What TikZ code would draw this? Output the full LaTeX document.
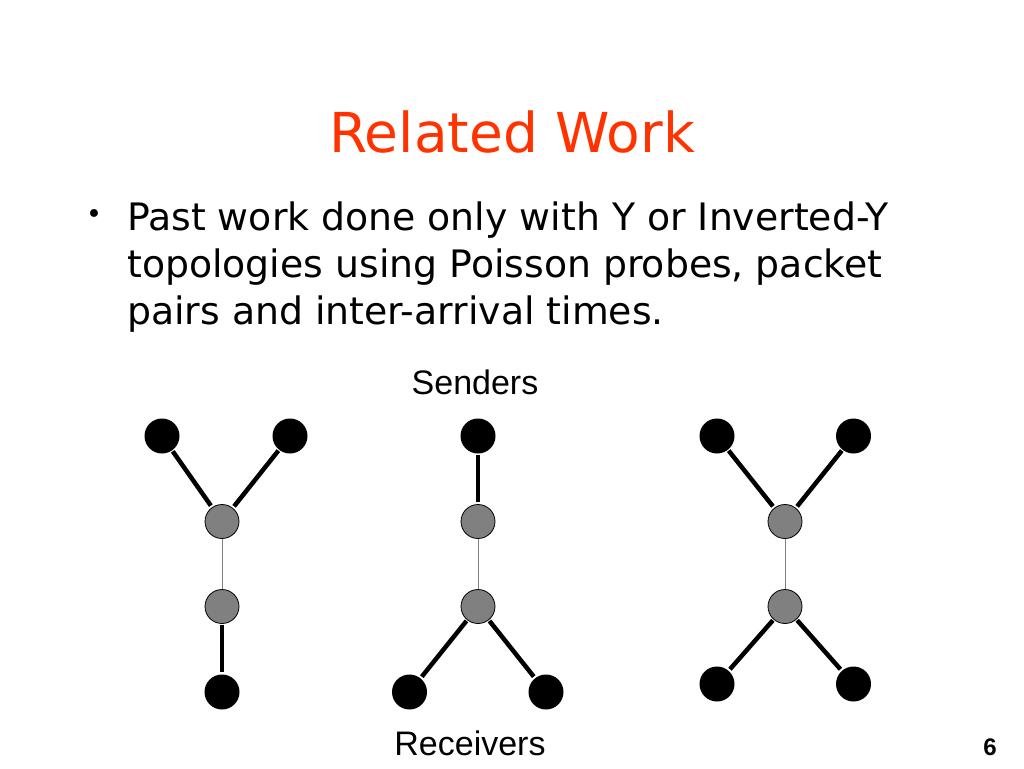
\documentclass[tikz,border=0pt]{standalone}
\usepackage{fontspec}
\setmainfont{DejaVu Sans}
\newfontfamily\arialfont{Liberation Sans}
\definecolor{titlered}{HTML}{FF3300}
\definecolor{nodegray}{HTML}{808080}
\begin{document}
\begin{tikzpicture}[x=1pt,y=-1pt,
  sendnode/.style={circle,fill=black,minimum size=35pt,inner sep=0pt},
  routenode/.style={circle,fill=nodegray,draw=black,line width=0.8pt,minimum size=34pt,inner sep=0pt},
  thickedge/.style={line width=4.5pt,black,shorten >=2pt,shorten <=1pt},
  thinedge/.style={line width=1pt,nodegray},
  bodytext/.style={anchor=base west,inner sep=0pt,font=\fontsize{37.8}{44}\selectfont},
  labeltext/.style={anchor=base,inner sep=0pt,font=\arialfont\fontsize{34}{40}\selectfont}]
\useasboundingbox[fill=white] (0,0) rectangle (1024,768);
% title
\node[anchor=base,inner sep=0pt,text=titlered,font=\fontsize{55}{64}\selectfont] (title) at (512,152) {Related Work};
% bullet text
\node[anchor=center,inner sep=0pt,font=\fontsize{27}{30}\selectfont] (bullet) at (94,217) {•};
\node[bodytext] (l1) at (127,230) {Past work done only with Y or Inverted-Y};
\node[bodytext] (l2) at (127,277) {topologies using Poisson probes, packet};
\node[bodytext] (l3) at (127,324) {pairs and inter-arrival times.};
% labels
\node[labeltext] (senders) at (475,394) {Senders};
\node[labeltext] (receivers) at (470,755) {Receivers};
\node[anchor=base,inner sep=0pt,font=\arialfont\bfseries\fontsize{24}{28}\selectfont] (pagenum) at (990,755) {6};
% graph 1 : Y
\node[sendnode] (a1) at (162,436) {};
\node[sendnode] (a2) at (290,436) {};
\node[routenode] (a3) at (222,521.5) {};
\node[routenode] (a4) at (222,606.5) {};
\node[sendnode] (a5) at (222,692) {};
\draw[thickedge] (a1) -- (a3);
\draw[thickedge] (a2) -- (a3);
\draw[thinedge] (a3) -- (a4);
\draw[thickedge] (a4) -- (a5);
% graph 2 : inverted Y
\node[sendnode] (b1) at (478,436) {};
\node[routenode] (b2) at (478,521.5) {};
\node[routenode] (b3) at (478,606.5) {};
\node[sendnode] (b4) at (409.5,692) {};
\node[sendnode] (b5) at (546,692) {};
\draw[thickedge] (b1) -- (b2);
\draw[thinedge] (b2) -- (b3);
\draw[thickedge] (b3) -- (b4);
\draw[thickedge] (b3) -- (b5);
% graph 3 : X
\node[sendnode] (c1) at (717,436) {};
\node[sendnode] (c2) at (853.5,436) {};
\node[routenode] (c3) at (785,521.5) {};
\node[routenode] (c4) at (785,606.5) {};
\node[sendnode] (c5) at (717,684) {};
\node[sendnode] (c6) at (853.5,684) {};
\draw[thickedge] (c1) -- (c3);
\draw[thickedge] (c2) -- (c3);
\draw[thinedge] (c3) -- (c4);
\draw[thickedge] (c4) -- (c5);
\draw[thickedge] (c4) -- (c6);
\end{tikzpicture}
\end{document}
